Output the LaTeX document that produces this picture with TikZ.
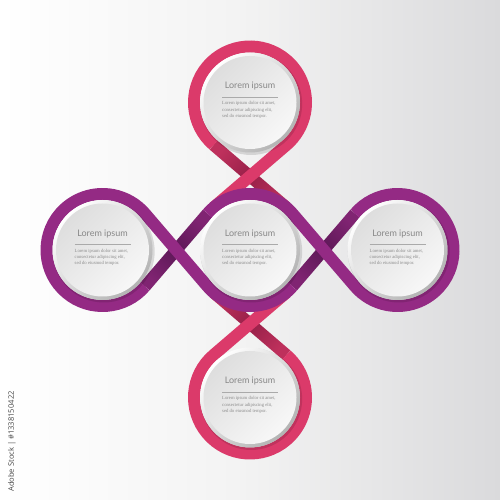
\documentclass[tikz,border=0pt]{standalone}
\usepackage{fontspec}
\setmainfont{Lato}
\newfontfamily\smallserif{Liberation Serif}
\newfontfamily\wmfont{Open Sans}
\usetikzlibrary{calc}
\definecolor{pinkM}{RGB}{219,58,106}
\definecolor{pinkD}{RGB}{150,32,72}
\definecolor{pinkE}{RGB}{190,48,92}
\definecolor{purpM}{RGB}{148,42,132}
\definecolor{purpD}{RGB}{92,24,86}
\definecolor{purpE}{RGB}{128,36,114}
\definecolor{bgR}{RGB}{218,218,220}
\definecolor{headtxt}{RGB}{135,135,135}
\definecolor{bodytxt}{RGB}{140,140,140}
\definecolor{rule}{RGB}{170,170,170}
\newcommand\backribbon[5]{%
  \shade[top color=#3, bottom color=#3, middle color=#4, shading angle=#5]
    ($(#1)!6pt!90:(#2)$) -- ($(#1)!6pt!-90:(#2)$) --
    ($(#2)!6pt!90:(#1)$) -- ($(#2)!6pt!-90:(#1)$) -- cycle;}
\newcommand\infobubble[2]{%
  \fill[black,opacity=0.12] ($(#2)+(1.2,-1.5)$) circle[radius=51];
  \node[discrim] (#1) at (#2) {};
  \node[discin] (#1in) at (#2) {};
  \node[headline] (#1h) at ($(#2)+(0,13.5)$) {Lorem ipsum};
  \draw[rule,line width=0.8pt] ($(#2)+(-28,5.5)$) coordinate (#1ra) -- ($(#2)+(28,5.5)$) coordinate (#1rb);
  \node[bodyline] (#1a) at ($(#2)+(-28,-2.5)$) {Lorem ipsum dolor sit amet,};
  \node[bodyline] (#1b) at ($(#2)+(-28,-8.6)$) {consectetur adipiscing elit,};
  \node[bodyline] (#1c) at ($(#2)+(-28,-14.7)$) {sed do eiusmod tempor.};}
\begin{document}
\begin{tikzpicture}[x=1pt,y=1pt,
  ribbonpink/.style={draw=pinkM, line width=12pt},
  ribbonpurp/.style={draw=purpM, line width=12pt},
  discrim/.style={circle, minimum size=100pt, inner sep=0pt, top color=white, bottom color=black!30, shading angle=45},
  discin/.style={circle, minimum size=93pt, inner sep=0pt, top color=black!13, bottom color=black!3, shading angle=45},
  headline/.style={inner sep=0pt, anchor=base, text=headtxt, font=\fontsize{9}{10}\selectfont},
  bodyline/.style={inner sep=0pt, anchor=base west, text=bodytxt, font=\smallserif\fontsize{4.7}{5.5}\selectfont}]
\useasboundingbox (0,0) rectangle (500,500);
\shade[left color=white, right color=bgR, middle color=black!5] (0,0) rectangle (500,500);
% centres
\coordinate (C) at (250,250);
\coordinate (T) at (250,397.5);
\coordinate (B) at (250,102.5);
\coordinate (L) at (102.5,250);
\coordinate (R) at (397.5,250);
% tangent points
\coordinate (T229) at ($(T)+(229.4:56)$);
\coordinate (T311) at ($(T)+(310.6:56)$);
\coordinate (B49) at ($(B)+(49.4:56)$);
\coordinate (B131) at ($(B)+(130.6:56)$);
\coordinate (C49) at ($(C)+(49.4:56)$);
\coordinate (C131) at ($(C)+(130.6:56)$);
\coordinate (C229) at ($(C)+(229.4:56)$);
\coordinate (C311) at ($(C)+(310.6:56)$);
\coordinate (C41) at ($(C)+(40.6:56)$);
\coordinate (C139) at ($(C)+(139.4:56)$);
\coordinate (C221) at ($(C)+(220.6:56)$);
\coordinate (C319) at ($(C)+(319.4:56)$);
\coordinate (L41) at ($(L)+(40.6:56)$);
\coordinate (L319) at ($(L)+(319.4:56)$);
\coordinate (R139) at ($(R)+(139.4:56)$);
\coordinate (R221) at ($(R)+(220.6:56)$);
% pink ribbons
\backribbon{T229}{C49}{pinkE}{pinkD}{49.4}
\backribbon{C229}{B49}{pinkE}{pinkD}{49.4}
\draw[ribbonpink] (T229) arc[start angle=229.4, end angle=-49.4, radius=56] -- (C131);
\draw[ribbonpink] (C311) -- (B131) arc[start angle=130.6, end angle=409.4, radius=56];
% purple ribbons
\backribbon{L319}{C139}{purpE}{purpD}{-40.6}
\backribbon{C319}{R139}{purpE}{purpD}{-40.6}
\draw[ribbonpurp] (L319) arc[start angle=-40.6, end angle=-319.4, radius=56] -- (C221)
  arc[start angle=220.6, end angle=319.4, radius=56];
\draw[ribbonpurp] (R139) arc[start angle=139.4, end angle=-139.4, radius=56] -- (C41)
  arc[start angle=40.6, end angle=139.4, radius=56];
% discs
\infobubble{dT}{T}
\infobubble{dL}{L}
\infobubble{dC}{C}
\infobubble{dR}{R}
\infobubble{dB}{B}
% side label
\node[rotate=90, anchor=west, inner sep=0pt, text=black!72, font=\wmfont\fontsize{7.6}{9}\selectfont] (wm) at (12,8) {Adobe Stock | \#1338150422};
\end{tikzpicture}
\end{document}
